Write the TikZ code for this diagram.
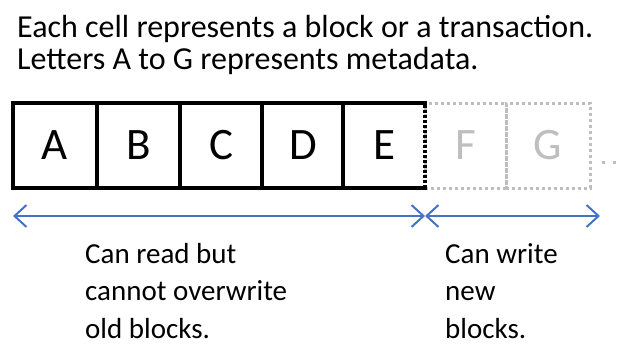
\documentclass[tikz,border=0pt]{standalone}
\usepackage{fontspec}
\setmainfont{Carlito}
\usetikzlibrary{arrows.meta}
\definecolor{arrowblue}{RGB}{68,114,196}
\definecolor{ghost}{RGB}{190,190,190}
\begin{document}
\begin{tikzpicture}[x=1pt,y=-1pt,
  cell/.style={minimum width=82pt,minimum height=85pt,inner sep=0pt,outer sep=0pt,
    font=\fontsize{45}{45}\selectfont},
  oldcell/.style={cell,text=black},
  newcell/.style={cell,text=ghost,draw=ghost,line width=3pt,dash pattern=on 3pt off 3pt},
  frame/.style={line width=3.6pt,line cap=rect},
  span/.style={arrowblue,line width=2pt,
    {Straight Barb[length=12pt,width=22pt,line width=2pt]}-{Straight Barb[length=12pt,width=22pt,line width=2pt]}},
  caption/.style={anchor=base west,inner sep=0pt,text depth=0pt,font=\fontsize{29}{37.5}\selectfont},
  heading/.style={anchor=base west,inner sep=0pt,font=\fontsize{32}{32}\selectfont}]
\useasboundingbox (0,0) rectangle (620,343);

% explanatory heading
\node[heading] (h1) at (17,37) {Each cell represents a block or a transaction.};
\node[heading] (h2) at (17,69) {Letters A to G represents metadata.};

% written blocks
\node[oldcell] (A) at (55,145.5) {A};
\node[oldcell] (B) at (138.5,145.5) {B};
\node[oldcell] (C) at (221,145.5) {C};
\node[oldcell] (D) at (303,145.5) {D};
\node[oldcell] (E) at (384.5,145.5) {E};

% future blocks
\node[newcell,minimum width=81pt] (F) at (465.5,145.5) {F};
\node[newcell,minimum width=84pt] (G) at (548,145.5) {G};

% frame round the written blocks
\coordinate (tl) at (13,103);
\coordinate (bl) at (13,188);
\coordinate (tr) at (425,103);
\coordinate (br) at (425,188);
\draw[frame] (tr) -- (tl) -- (bl) -- (br);
\draw[line width=3.6pt,dash pattern=on 3pt off 2pt] (br) -- (tr);
\foreach \x in {97,180,262,343}
  \draw[line width=3.6pt] (\x,103) -- (\x,188);

% more blocks to come
\coordinate (more) at (602,162);
\coordinate (moreend) at (620,162);
\draw[ghost,line width=3pt,dash pattern=on 3pt off 8pt] (more) -- (moreend);

% ranges
\coordinate (r0) at (13,216);
\coordinate (r1) at (425,216);
\coordinate (r2) at (600,216);
\draw[span] (r0) -- (r1);
\draw[span] (r1) -- (r2);

% captions under the ranges, one line per node
\node[caption] (c1a) at (85,263) {Can read but};
\node[caption] (c1b) at (85,300.5) {cannot overwrite};
\node[caption] (c1c) at (85,338) {old blocks.};
\node[caption] (c2a) at (445,263) {Can write};
\node[caption] (c2b) at (445,300.5) {new};
\node[caption] (c2c) at (445,338) {blocks.};
\end{tikzpicture}
\end{document}
